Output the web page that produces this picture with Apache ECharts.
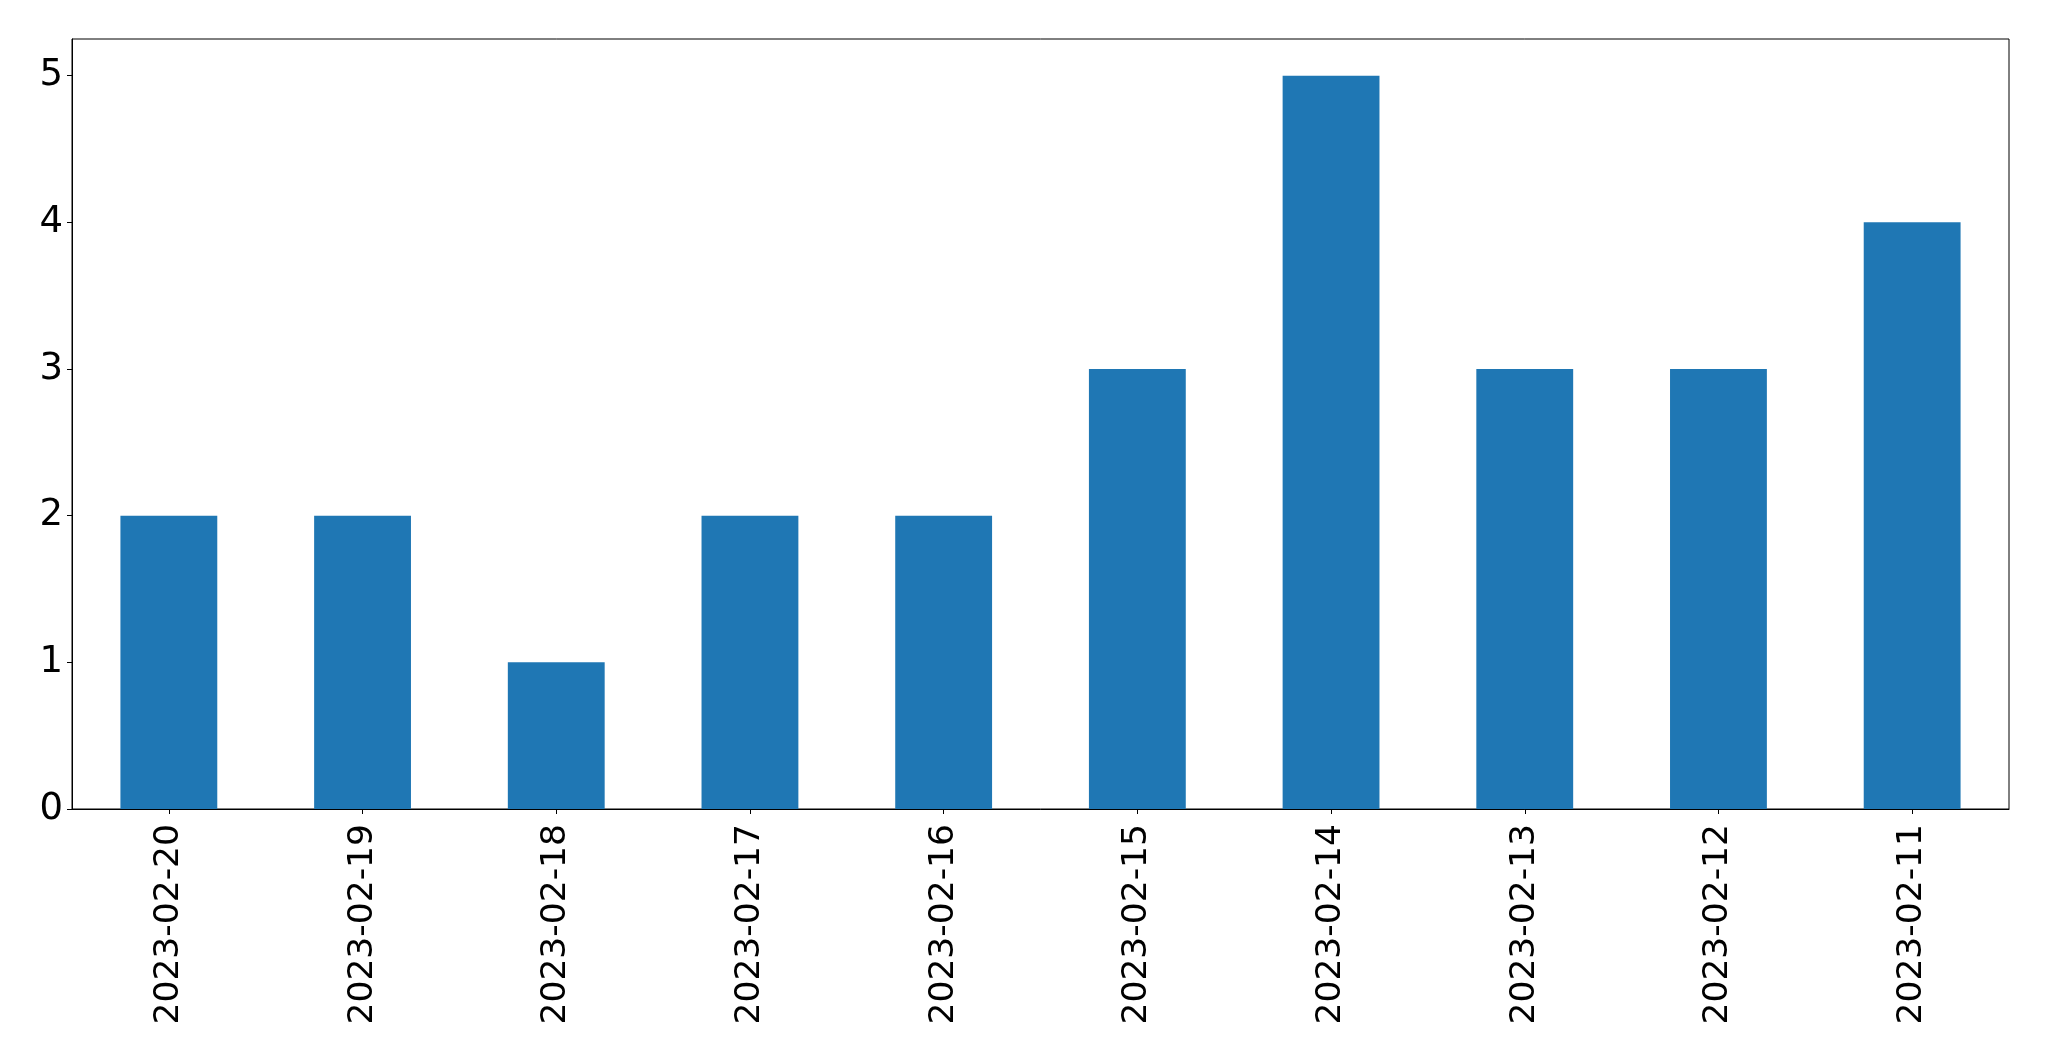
<!DOCTYPE html>
<html>
<head>
<meta charset="utf-8">
<script src="https://cdn.jsdelivr.net/npm/echarts@6/dist/echarts.min.js"></script>
<style>
  html, body { margin: 0; padding: 0; background: #fff; }
  #main { width: 2049px; height: 1061px; }
</style>
</head>
<body>
<div id="main"></div>
<script>
// dates as they appear on the x axis (newest first)
const categories = ['2023-02-20', '2023-02-19', '2023-02-18', '2023-02-17', '2023-02-16',
                    '2023-02-15', '2023-02-14', '2023-02-13', '2023-02-12', '2023-02-11'];
const counts = [2, 2, 1, 2, 2, 3, 5, 3, 3, 4];
const yTicks = [0, 1, 2, 3, 4, 5];

const chart = echarts.init(document.getElementById('main'));

chart.setOption({
    animation: false,
    backgroundColor: '#fff',
    grid: {
        left: 72,
        right: 40,
        top: 39,
        bottom: 252,
        show: true,
        borderColor: '#000',
        borderWidth: 1
    },
    xAxis: {
        type: 'category',
        data: categories,
        boundaryGap: true,
        axisLine: { show: true, lineStyle: { color: '#000', width: 1 } },
        axisTick: { show: true, alignWithLabel: true, length: 5, lineStyle: { color: '#000', width: 1 } },
        axisLabel: { rotate: 90, margin: 15, interval: 0, fontFamily: 'DejaVu Sans', fontSize: 34.5, color: '#000' },
        splitLine: { show: false }
    },
    yAxis: {
        type: 'value',
        min: 0,
        max: 5.25,
        interval: 1,
        axisLine: { show: true, lineStyle: { color: '#000', width: 1 } },
        axisTick: { show: true, length: 5, customValues: yTicks, lineStyle: { color: '#000', width: 1 } },
        axisLabel: { margin: 9, padding: [8, 0, 0, 0], customValues: yTicks, fontFamily: 'DejaVu Sans', fontSize: 37, color: '#000' },
        splitLine: { show: false }
    },
    series: [{
        type: 'bar',
        data: counts,
        barWidth: '50%',
        itemStyle: { color: '#1f77b4' }
    }]
});
</script>
</body>
</html>
